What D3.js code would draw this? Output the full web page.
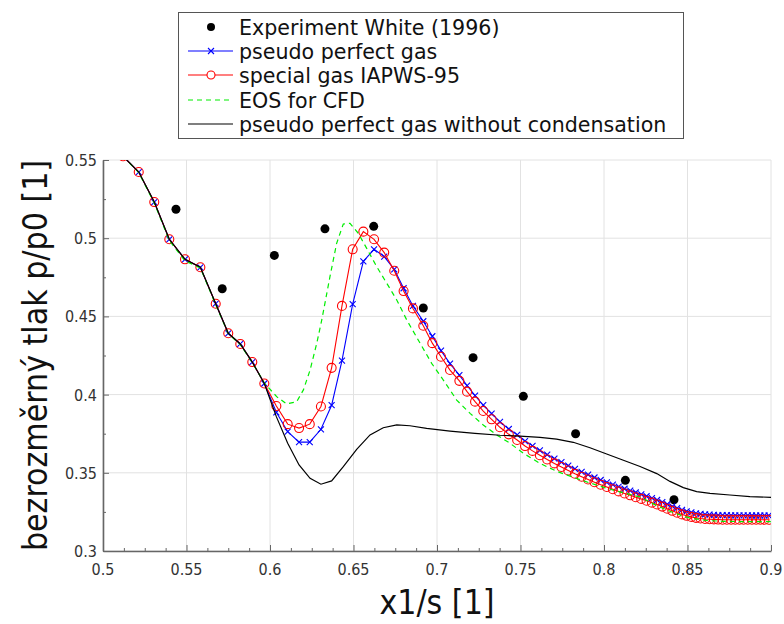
<!DOCTYPE html>
<html>
<head>
<meta charset="utf-8">
<script src="https://cdn.jsdelivr.net/npm/d3@7"></script>
<style>
    body { margin: 0; background: #fff; }
    .tick-label { font-family: "DejaVu Sans Condensed", "DejaVu Sans"; font-stretch: condensed; font-size: 16px; fill: #333; }
    .axis-title { font-family: "DejaVu Sans Condensed", "DejaVu Sans"; font-stretch: condensed; font-size: 33.5px; fill: #111; }
    .legend-text { font-family: "DejaVu Sans"; font-size: 20.6px; fill: #111; }
</style>
</head>
<body>
<svg id="chart" width="784" height="624"></svg>
<script>
'use strict';

// experiment White (1996)
var expX = [0.5437, 0.5714, 0.6026, 0.6329, 0.6621, 0.6918, 0.7216, 0.7517, 0.7830, 0.8128, 0.8419];
var expY = [0.5185, 0.4677, 0.4890, 0.5060, 0.5076, 0.4554, 0.4236, 0.3989, 0.3750, 0.3452, 0.3328];

// mesh nodes shared by pseudo perfect gas and IAPWS-95
var meshX = [0.5120, 0.5214, 0.5307, 0.5397, 0.5491, 0.5583, 0.5675, 0.5750, 0.5822, 0.5894,
    0.5966, 0.6038, 0.6106, 0.6174, 0.6238, 0.6305, 0.6369, 0.6431, 0.6495, 0.6559,
    0.6623, 0.6684, 0.6744, 0.6800, 0.6856, 0.6918, 0.6972, 0.7024, 0.7078, 0.7134,
    0.7180, 0.7228, 0.7277, 0.7327, 0.7377, 0.7430, 0.7480, 0.7527,
    0.7572, 0.7616, 0.7660, 0.7703, 0.7745, 0.7786, 0.7826, 0.7866, 0.7905, 0.7943,
    0.7980, 0.8017, 0.8053, 0.8088, 0.8123, 0.8157, 0.8190, 0.8223, 0.8255, 0.8287,
    0.8318, 0.8349, 0.8379, 0.8409, 0.8438, 0.8467, 0.8495, 0.8523, 0.8551, 0.8578,
    0.8605, 0.8632, 0.8658, 0.8684, 0.8710, 0.8736, 0.8761, 0.8786, 0.8811, 0.8836,
    0.8861, 0.8886, 0.8911, 0.8936, 0.8961, 0.8986];

var perfectY = [0.5524, 0.5423, 0.5231, 0.4993, 0.4865, 0.4814, 0.4581, 0.4392, 0.4324, 0.4208,
    0.4071, 0.3887, 0.3763, 0.3696, 0.3696, 0.3778, 0.3932, 0.4217, 0.4579, 0.4852,
    0.4929, 0.4882, 0.4801, 0.4680, 0.4567, 0.4469, 0.4373, 0.4281, 0.4198, 0.4125,
    0.4058, 0.3993, 0.3932, 0.3878, 0.3826, 0.3780, 0.3743, 0.3703,
    0.3672, 0.3643, 0.3616, 0.3591, 0.3568, 0.3546, 0.3525, 0.3506, 0.3488, 0.3470,
    0.3454, 0.3439, 0.3425, 0.3411, 0.3398, 0.3386, 0.3374, 0.3362, 0.3350, 0.3338,
    0.3326, 0.3313, 0.3299, 0.3286, 0.3274, 0.3263, 0.3254, 0.3247, 0.3241, 0.3237,
    0.3234, 0.3232, 0.3231, 0.3230, 0.3229, 0.3229, 0.3228, 0.3228, 0.3228, 0.3228,
    0.3228, 0.3227, 0.3227, 0.3227, 0.3227, 0.3227];

var iapwsY = [0.5524, 0.5423, 0.5231, 0.4993, 0.4865, 0.4814, 0.4581, 0.4392, 0.4324, 0.4208,
    0.4071, 0.3927, 0.3811, 0.3786, 0.3811, 0.3924, 0.4171, 0.4567, 0.4929, 0.5042,
    0.4993, 0.4908, 0.4792, 0.4662, 0.4551, 0.4440, 0.4329, 0.4242, 0.4157, 0.4088,
    0.4019, 0.3955, 0.3895, 0.3842, 0.3791, 0.3746, 0.3710, 0.3671,
    0.3640, 0.3612, 0.3585, 0.3560, 0.3537, 0.3515, 0.3494, 0.3475, 0.3457, 0.3440,
    0.3424, 0.3409, 0.3395, 0.3381, 0.3368, 0.3356, 0.3344, 0.3333, 0.3321, 0.3309,
    0.3297, 0.3284, 0.3270, 0.3257, 0.3245, 0.3234, 0.3225, 0.3218, 0.3212, 0.3208,
    0.3205, 0.3203, 0.3202, 0.3201, 0.3200, 0.3200, 0.3200, 0.3200, 0.3200, 0.3200,
    0.3200, 0.3200, 0.3200, 0.3200, 0.3200, 0.3200];

// EOS for CFD
var eosX = [0.5120, 0.5214, 0.5307, 0.5397, 0.5491, 0.5583, 0.5675, 0.5750, 0.5822, 0.5894,
    0.5966, 0.6040, 0.6100, 0.6160, 0.6200, 0.6240, 0.6280, 0.6310, 0.6359, 0.6399,
    0.6439, 0.6479, 0.6529, 0.6579, 0.6639, 0.6699, 0.6759, 0.6819, 0.6898, 0.6968,
    0.7038, 0.7118, 0.7198, 0.7277, 0.7357, 0.7437, 0.7517, 0.7617, 0.7716, 0.7816,
    0.7916, 0.8016, 0.8116, 0.8216, 0.8316, 0.8415, 0.8515, 0.8615, 0.8715, 0.8815, 0.9000];
var eosY = [0.5524, 0.5420, 0.5225, 0.4985, 0.4855, 0.4810, 0.4575, 0.4390, 0.4320, 0.4205,
    0.4075, 0.3987, 0.3940, 0.3955, 0.4030, 0.4157, 0.4328, 0.4477, 0.4754, 0.4967,
    0.5091, 0.5095, 0.5031, 0.4935, 0.4818, 0.4712, 0.4605, 0.4477, 0.4330, 0.4200,
    0.4093, 0.3965, 0.3880, 0.3806, 0.3742, 0.3689, 0.3625, 0.3560, 0.3510, 0.3471,
    0.3435, 0.3401, 0.3372, 0.3345, 0.3290, 0.3245, 0.3210, 0.3195, 0.3190, 0.3188, 0.3188];

// pseudo perfect gas without condensation
var dryX = [0.5120, 0.5214, 0.5307, 0.5397, 0.5491, 0.5583, 0.5675, 0.5750, 0.5822, 0.5894,
    0.5966, 0.6038, 0.6106, 0.6174, 0.6240, 0.6305, 0.6369, 0.6439, 0.6519, 0.6599,
    0.6678, 0.6759, 0.6838, 0.6938, 0.7078, 0.7227, 0.7377, 0.7497, 0.7617, 0.7716,
    0.7816, 0.7916, 0.8016, 0.8116, 0.8216, 0.8316, 0.8395, 0.8475, 0.8555, 0.8635,
    0.8754, 0.8874, 0.9000];
var dryY = [0.5524, 0.5423, 0.5231, 0.4993, 0.4865, 0.4814, 0.4581, 0.4392, 0.4324, 0.4208,
    0.4071, 0.3859, 0.3689, 0.3550, 0.3465, 0.3427, 0.3448, 0.3539, 0.3650, 0.3742,
    0.3788, 0.3806, 0.3801, 0.3784, 0.3767, 0.3752, 0.3740, 0.3735, 0.3727, 0.3715,
    0.3695, 0.3660, 0.3620, 0.3580, 0.3540, 0.3495, 0.3445, 0.3405, 0.3380, 0.3369,
    0.3358, 0.3348, 0.3343];

var xTicks = [0.5, 0.55, 0.6, 0.65, 0.7, 0.75, 0.8, 0.85, 0.9];
var yTicks = [0.3, 0.35, 0.4, 0.45, 0.5, 0.55];
var xTickLabels = ["0.5", "0.55", "0.6", "0.65", "0.7", "0.75", "0.8", "0.85", "0.9"];
var yTickLabels = ["0.3", "0.35", "0.4", "0.45", "0.5", "0.55"];

var legendNames = ["Experiment White (1996)", "pseudo perfect gas", "special gas IAPWS-95", "EOS for CFD", "pseudo perfect gas without condensation"];

var plotLeft = 103, plotRight = 771, plotTop = 160, plotBottom = 551;
var svg = d3.select("#chart");
var x = d3.scaleLinear().domain([0.5, 0.9]).range([plotLeft, plotRight]);
var y = d3.scaleLinear().domain([0.3, 0.55]).range([plotBottom, plotTop]);

function zip(xs, ys) {
    return xs.map(function (v, i) { return [v, ys[i]]; });
}

var line = d3.line().x(function (d) { return x(d[0]); }).y(function (d) { return y(d[1]); });

svg.append("defs").append("clipPath").attr("id", "plotClip")
    .append("rect").attr("x", plotLeft).attr("y", plotTop).attr("width", plotRight - plotLeft).attr("height", plotBottom - plotTop);

// grid
svg.append("g").selectAll("line").data(xTicks).enter().append("line")
    .attr("x1", function (d) { return x(d); }).attr("x2", function (d) { return x(d); })
    .attr("y1", plotTop).attr("y2", plotBottom)
    .attr("stroke", "#e2e2e2").attr("stroke-width", 1);
svg.append("g").selectAll("line").data(yTicks).enter().append("line")
    .attr("x1", plotLeft).attr("x2", plotRight)
    .attr("y1", function (d) { return y(d); }).attr("y2", function (d) { return y(d); })
    .attr("stroke", "#e2e2e2").attr("stroke-width", 1);

// axes, ticks pointing inward
var xAxis = d3.axisBottom(x).tickValues(d3.range(0.5, 0.9001, 0.0125)).tickSizeInner(-3).tickSizeOuter(0).tickFormat("");
var yAxis = d3.axisLeft(y).tickValues(d3.range(0.3, 0.5501, 0.025)).tickSizeInner(-3).tickSizeOuter(0).tickFormat("");
var gx = svg.append("g").attr("transform", "translate(0," + plotBottom + ")").call(xAxis);
var gy = svg.append("g").attr("transform", "translate(" + plotLeft + ",0)").call(yAxis);
[gx, gy].forEach(function (g) {
    g.select(".domain").attr("stroke", "#666").attr("stroke-width", 1.6);
    g.selectAll(".tick line").attr("stroke", "#666").attr("stroke-width", 1);
});
gx.selectAll(".tick line").filter(function (d, i) { return i % 4 === 0; }).attr("y2", -6);
gy.selectAll(".tick line").filter(function (d, i) { return i % 2 === 0; }).attr("x2", 6);

svg.append("g").selectAll("text").data(xTicks).enter().append("text")
    .attr("class", "tick-label").attr("x", function (d) { return x(d); }).attr("y", plotBottom + 24)
    .attr("text-anchor", "middle").text(function (d, i) { return xTickLabels[i]; });
svg.append("g").selectAll("text").data(yTicks).enter().append("text")
    .attr("class", "tick-label").attr("x", plotLeft - 6).attr("y", function (d) { return y(d) + 6; })
    .attr("text-anchor", "end").text(function (d, i) { return yTickLabels[i]; });

svg.append("text").attr("class", "axis-title").attr("x", (plotLeft + plotRight) / 2).attr("y", 614)
    .attr("text-anchor", "middle").text("x1/s [1]");
svg.append("text").attr("class", "axis-title").attr("transform", "translate(47," + ((plotTop + plotBottom) / 2) + ") rotate(-90)")
    .attr("text-anchor", "middle").text("bezrozměrný tlak p/p0 [1]");

// series
var plot = svg.append("g").attr("clip-path", "url(#plotClip)");

plot.selectAll("circle.exp").data(zip(expX, expY)).enter().append("circle")
    .attr("class", "exp").attr("cx", function (d) { return x(d[0]); }).attr("cy", function (d) { return y(d[1]); })
    .attr("r", 4.5).attr("fill", "#000");

var perfect = zip(meshX, perfectY);
plot.append("path").datum(perfect).attr("d", line).attr("fill", "none").attr("stroke", "#0000ff").attr("stroke-width", 1.1);
plot.selectAll("path.cross").data(perfect).enter().append("path")
    .attr("class", "cross")
    .attr("d", function (d) {
        var cx = x(d[0]), cy = y(d[1]), s = 3;
        return "M" + (cx - s) + "," + (cy - s) + "L" + (cx + s) + "," + (cy + s) + "M" + (cx - s) + "," + (cy + s) + "L" + (cx + s) + "," + (cy - s);
    })
    .attr("stroke", "#0000ff").attr("stroke-width", 1.1);

var iapws = zip(meshX, iapwsY);
plot.append("path").datum(iapws).attr("d", line).attr("fill", "none").attr("stroke", "#ff0000").attr("stroke-width", 1.1);
plot.selectAll("circle.ring").data(iapws).enter().append("circle")
    .attr("class", "ring").attr("cx", function (d) { return x(d[0]); }).attr("cy", function (d) { return y(d[1]); })
    .attr("r", 4.5).attr("fill", "none").attr("stroke", "#ff0000").attr("stroke-width", 1.1);

plot.append("path").datum(zip(eosX, eosY)).attr("d", line).attr("fill", "none")
    .attr("stroke", "#00ee00").attr("stroke-width", 1.2).attr("stroke-dasharray", "5,4");

plot.append("path").datum(zip(dryX, dryY)).attr("d", line).attr("fill", "none")
    .attr("stroke", "#000").attr("stroke-width", 1.2);

// legend
var lg = svg.append("g");
lg.append("rect").attr("x", 178.5).attr("y", 12.5).attr("width", 505).attr("height", 126)
    .attr("fill", "#fff").attr("stroke", "#555").attr("stroke-width", 1);
var rowY = [27, 51, 75, 100, 124];
lg.selectAll("text").data(legendNames).enter().append("text")
    .attr("class", "legend-text").attr("x", 239).attr("y", function (d, i) { return rowY[i] + 7.5; }).text(function (d) { return d; });
lg.append("circle").attr("cx", 211).attr("cy", rowY[0]).attr("r", 4).attr("fill", "#000");
lg.append("line").attr("x1", 188).attr("x2", 233).attr("y1", rowY[1]).attr("y2", rowY[1]).attr("stroke", "#0000ff").attr("stroke-width", 1.1);
lg.append("path").attr("d", "M208," + (rowY[1] - 3) + "L214," + (rowY[1] + 3) + "M208," + (rowY[1] + 3) + "L214," + (rowY[1] - 3))
    .attr("stroke", "#0000ff").attr("stroke-width", 1.1);
lg.append("line").attr("x1", 188).attr("x2", 233).attr("y1", rowY[2]).attr("y2", rowY[2]).attr("stroke", "#ff0000").attr("stroke-width", 1.1);
lg.append("circle").attr("cx", 211).attr("cy", rowY[2]).attr("r", 4).attr("fill", "#fff").attr("stroke", "#ff0000").attr("stroke-width", 1.1);
lg.append("line").attr("x1", 188).attr("x2", 233).attr("y1", rowY[3]).attr("y2", rowY[3]).attr("stroke", "#00ee00").attr("stroke-width", 1.2).attr("stroke-dasharray", "5,4");
lg.append("line").attr("x1", 188).attr("x2", 233).attr("y1", rowY[4]).attr("y2", rowY[4]).attr("stroke", "#000").attr("stroke-width", 1.1);
</script>
</body>
</html>
